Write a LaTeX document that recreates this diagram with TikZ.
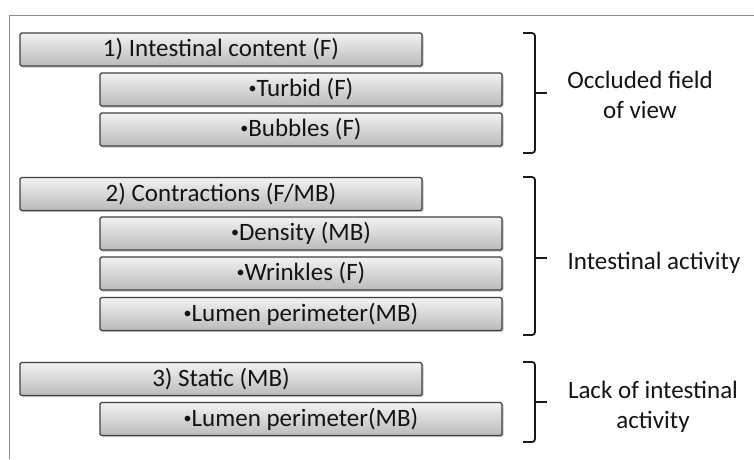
\documentclass[tikz,border=0pt]{standalone}
\usepackage{fontspec}
\setmainfont{Carlito}
\usetikzlibrary{shadows}
\newcommand\mybul{\raisebox{0.12em}{\fontsize{16}{16}\selectfont•}}
\begin{document}
\begin{tikzpicture}[x=1pt,y=-1pt,
  bar/.style={draw=black!75, line width=1.2pt, rounded corners=1.5pt,
    top color=black!5, bottom color=black!27,
    minimum width=402pt, minimum height=33pt, inner sep=0pt,
    text=black!92, font=\fontsize{25}{30}\selectfont,
    drop shadow={shadow xshift=1.5pt, shadow yshift=-1.5pt, opacity=0.45}},
  lbl/.style={align=center, text=black!92, font=\fontsize{25}{30}\selectfont},
  brace/.style={line width=1.8pt, black!90, rounded corners=3pt},
  frame/.style={draw=black!45, line width=0.8pt}]
\useasboundingbox (0,0) rectangle (754,459);
\fill[white] (0,0) rectangle (754,459);
\draw[frame] (9,459) -- (9,15) -- (754,15);
% group 1
\node[bar] (g1) at (221,49.5) {1) Intestinal content (F)};
\node[bar] (turbid) at (301,89.5) {\mybul Turbid (F)};
\node[bar] (bubbles) at (301,129.5) {\mybul Bubbles (F)};
% group 2
\node[bar] (g2) at (221,194) {2) Contractions (F/MB)};
\node[bar] (density) at (301,233.5) {\mybul Density (MB)};
\node[bar] (wrinkles) at (301,273.5) {\mybul Wrinkles (F)};
\node[bar] (lumen) at (301,314) {\mybul Lumen perimeter(MB)};
% group 3
\node[bar] (g3) at (221,379) {3) Static (MB)};
\node[bar] (lumen3) at (301,419) {\mybul Lumen perimeter(MB)};
% braces
\draw[brace] (523,33) -- (535,33) -- (535,153) -- (523,153);
\draw[brace] (535,93) -- (547,93);
\draw[brace] (523,177) -- (535,177) -- (535,335) -- (523,335);
\draw[brace] (535,258) -- (547,258);
\draw[brace] (523,362) -- (535,362) -- (535,442) -- (523,442);
\draw[brace] (535,402) -- (547,402);
% labels
\node[lbl] (t1) at (640,95) {Occluded field\\of view};
\node[lbl] (t2) at (654,263) {Intestinal activity};
\node[lbl] (t3) at (653,407) {Lack of intestinal\\activity};
\end{tikzpicture}
\end{document}
